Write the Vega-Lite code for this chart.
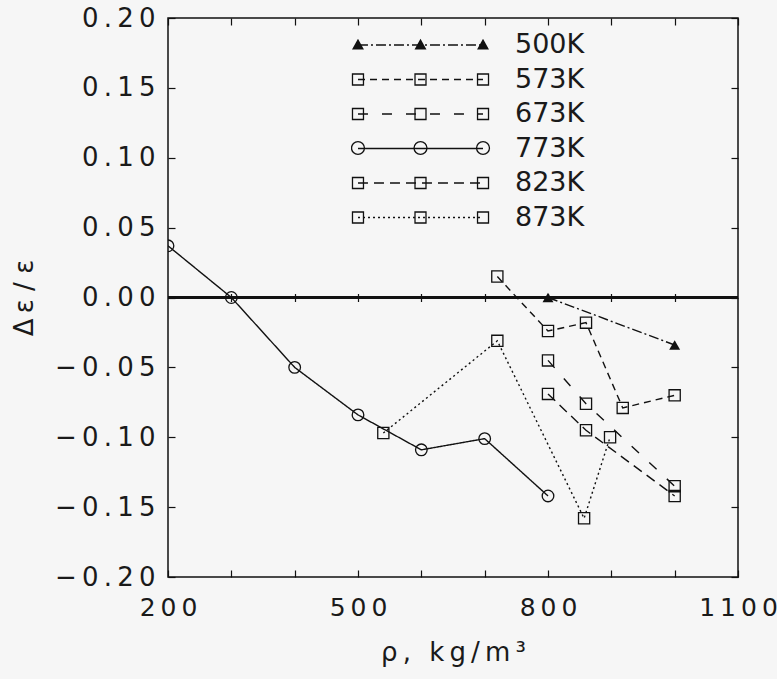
{
  "$schema": "https://vega.github.io/schema/vega-lite/v6.json",
  "width": 570,
  "height": 559,
  "autosize": "none",
  "padding": {"left": 168, "top": 18, "right": 39, "bottom": 102},
  "background": "#f6f6f6",
  "config": {
    "view": {"stroke": "#111111", "strokeWidth": 1.5},
    "font": "DejaVu Sans",
    "axis": {
      "labelFont": "DejaVu Sans",
      "labelFontSize": 26,
      "labelColor": "#1a1a1a",
      "titleFont": "DejaVu Sans",
      "titleFontSize": 26,
      "titleFontWeight": "normal",
      "titleColor": "#1a1a1a",
      "tickColor": "#111111",
      "tickWidth": 1.2,
      "domain": false,
      "grid": false,
      "labelFlush": false,
      "labelOverlap": false,
      "labelBound": false
    },
    "legend": {
      "orient": "none", "legendX": 183, "legendY": 12, "title": null,
      "symbolSize": 18880, "symbolStrokeWidth": 1.3, "clipHeight": 30, "rowPadding": 4.5,
      "labelOffset": 25, "labelFontSize": 27, "labelFont": "DejaVu Sans",
      "labelColor": "#1a1a1a", "padding": 0, "labelLimit": 200
    }
  },
  "data": {
    "values": [
      {"T": "500K", "rho": 800, "d": 0.0},
      {"T": "500K", "rho": 1000, "d": -0.034},
      {"T": "573K", "rho": 720, "d": 0.015},
      {"T": "573K", "rho": 800, "d": -0.024},
      {"T": "573K", "rho": 860, "d": -0.018},
      {"T": "573K", "rho": 918, "d": -0.079},
      {"T": "573K", "rho": 1000, "d": -0.070},
      {"T": "673K", "rho": 800, "d": -0.045},
      {"T": "673K", "rho": 860, "d": -0.076},
      {"T": "673K", "rho": 1000, "d": -0.135},
      {"T": "773K", "rho": 200, "d": 0.037},
      {"T": "773K", "rho": 300, "d": 0.0},
      {"T": "773K", "rho": 400, "d": -0.050},
      {"T": "773K", "rho": 500, "d": -0.084},
      {"T": "773K", "rho": 600, "d": -0.109},
      {"T": "773K", "rho": 700, "d": -0.101},
      {"T": "773K", "rho": 800, "d": -0.142},
      {"T": "823K", "rho": 800, "d": -0.069},
      {"T": "823K", "rho": 860, "d": -0.095},
      {"T": "823K", "rho": 1000, "d": -0.142},
      {"T": "873K", "rho": 540, "d": -0.097},
      {"T": "873K", "rho": 720, "d": -0.031},
      {"T": "873K", "rho": 857, "d": -0.158},
      {"T": "873K", "rho": 898, "d": -0.100}
    ]
  },
  "layer": [
    {
      "mark": {"type": "rule", "color": "#111111", "strokeWidth": 1.8},
      "encoding": {
        "y": {"datum": 0, "type": "quantitative", "axis": null}
      }
    },
    {
      "mark": {"type": "line", "color": "#111111", "strokeWidth": 1.4, "clip": true},
      "encoding": {
        "x": {
          "field": "rho", "type": "quantitative",
          "scale": {"domain": [200, 1100], "nice": false, "zero": false},
          "axis": {
            "orient": "bottom",
            "values": [200, 300, 400, 500, 600, 700, 800, 900, 1000, 1100],
            "format": "d",
            "labelExpr": "datum.value % 300 === 200 ? replace(datum.label, regexp('(.)(?=.)', 'g'), '$1\u2009') : ''",
            "labelFontSize": 25,
            "tickSize": -7,
            "labelPadding": 25,
            "title": "ρ\u2009,\u2002\u2009k\u2009g\u2009/\u2009m\u2009³",
            "titlePadding": 19
          }
        },
        "y": {
          "field": "d", "type": "quantitative",
          "scale": {"domain": [-0.2, 0.2], "nice": false, "zero": false},
          "axis": {
            "orient": "left",
            "values": [-0.2, -0.15, -0.1, -0.05, 0, 0.05, 0.1, 0.15, 0.2],
            "format": ".2f",
            "labelExpr": "replace(datum.label, regexp('(.)(?=.)', 'g'), '$1\u2009')",
            "tickSize": -7,
            "labelPadding": 20,
            "title": "Δ\u2009ε / ε",
            "titlePadding": 17
          }
        },
        "strokeDash": {
          "field": "T", "type": "nominal",
          "scale": {
            "domain": ["500K", "573K", "673K", "773K", "823K", "873K"],
            "range": [[10, 3, 2, 3], [7, 5], [10, 14], [1, 0], [10, 6], [2, 3]]
          },
          "legend": {"symbolType": "M-0.91,0H0.91", "symbolStrokeColor": "#111111"}
        }
      }
    },
    {
      "transform": [{"filter": "datum.rho > 0"}],
      "mark": {"type": "point", "shape": "square", "filled": false, "strokeWidth": 1.3, "size": 125, "opacity": 1, "clip": true},
      "encoding": {
        "x": {
          "field": "rho", "type": "quantitative",
          "axis": {"orient": "top", "values": [200, 300, 400, 500, 600, 700, 800, 900, 1000, 1100], "labels": false, "tickSize": -7, "title": null}
        },
        "y": {
          "field": "d", "type": "quantitative",
          "axis": {"orient": "right", "values": [-0.2, -0.15, -0.1, -0.05, 0, 0.05, 0.1, 0.15, 0.2], "labels": false, "tickSize": -7, "title": null}
        },
        "stroke": {
          "field": "T", "type": "nominal",
          "scale": {"range": ["transparent", "#111111", "#111111", "transparent", "#111111", "#111111"]},
          "legend": {
            "labelOpacity": 0,
            "symbolType": "M-0.99,-0.08h0.16v0.16h-0.16ZM-0.08,-0.08h0.16v0.16h-0.16ZM0.83,-0.08h0.16v0.16h-0.16Z",
            "symbolFillColor": "transparent"
          }
        }
      }
    },
    {
      "transform": [{"filter": "datum.rho > 1"}],
      "mark": {"type": "point", "shape": "circle", "filled": false, "stroke": "#111111", "strokeWidth": 1.3, "size": 135, "clip": true},
      "encoding": {
        "x": {"field": "rho", "type": "quantitative", "axis": null},
        "y": {"field": "d", "type": "quantitative", "axis": null},
        "opacity": {
          "field": "T", "type": "nominal",
          "scale": {"type": "ordinal", "range": [0, 0, 0, 1, 0, 0]},
          "legend": {
            "legendY": 46,
            "labelOpacity": 0,
            "symbolType": "M-1.004,0a0.094,0.094 0 1,0 0.188,0a0.094,0.094 0 1,0 -0.188,0M-0.094,0a0.094,0.094 0 1,0 0.188,0a0.094,0.094 0 1,0 -0.188,0M0.816,0a0.094,0.094 0 1,0 0.188,0a0.094,0.094 0 1,0 -0.188,0",
            "symbolStrokeColor": "#111111",
            "symbolFillColor": "transparent"
          }
        }
      }
    },
    {
      "transform": [{"filter": "datum.rho > 2"}],
      "mark": {"type": "point", "shape": "triangle-up", "filled": true, "strokeWidth": 0, "size": 120, "opacity": 1},
      "encoding": {
        "x": {
          "field": "rho", "type": "quantitative",
          "axis": {"orient": "bottom", "offset": -283.5, "values": [300, 400, 500, 600, 700, 800, 900, 1000], "labels": false, "tickSize": 8, "title": null}
        },
        "y": {"field": "d", "type": "quantitative", "axis": null},
        "fill": {
          "field": "T", "type": "nominal",
          "scale": {"range": ["#111111", "transparent", "transparent", "transparent", "transparent", "transparent"]},
          "legend": {
            "labelOpacity": 0,
            "symbolType": "M-0.91,-0.09L-0.823,0.065L-0.997,0.065ZM0,-0.09L0.087,0.065L-0.087,0.065ZM0.91,-0.09L0.997,0.065L0.823,0.065Z",
            "symbolStrokeColor": "transparent"
          }
        }
      }
    }
  ]
}
